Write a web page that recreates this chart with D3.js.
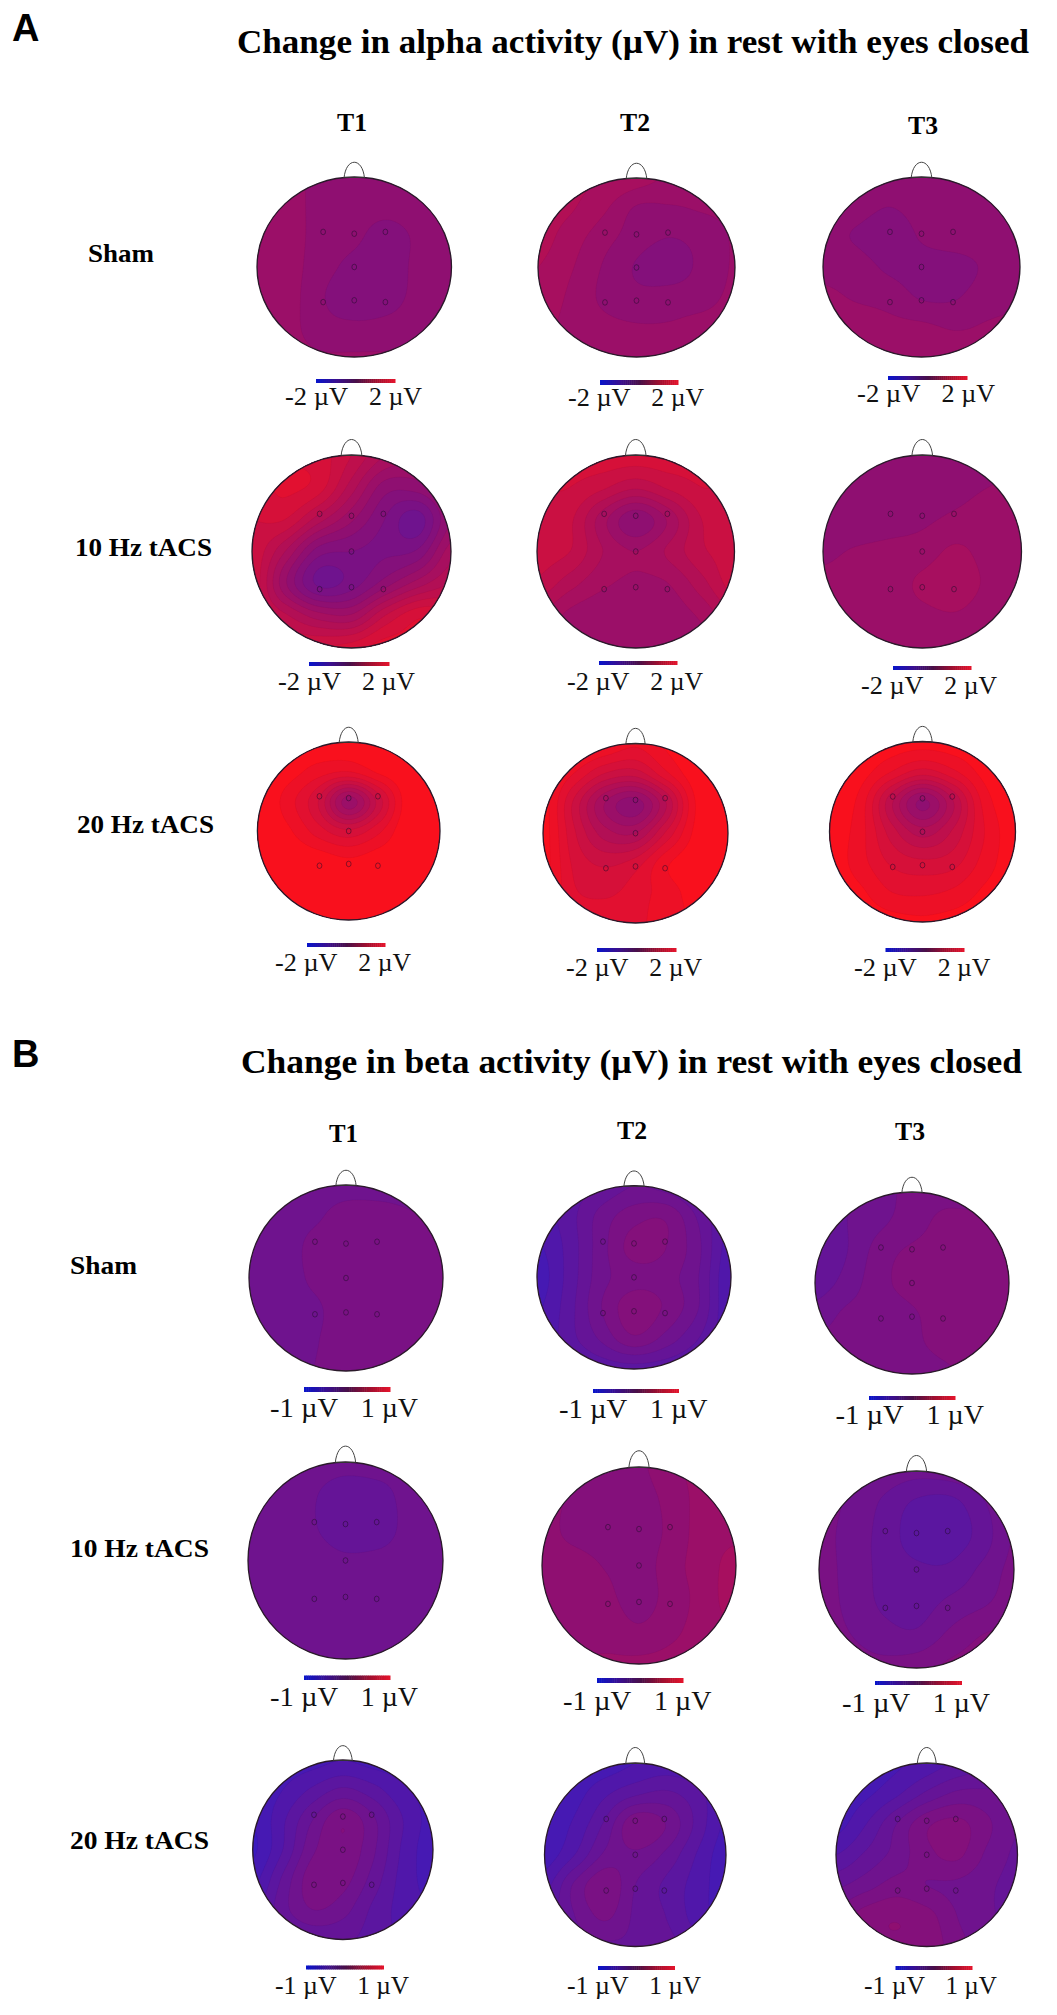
<!DOCTYPE html>
<html><head><meta charset="utf-8">
<script src="https://cdn.jsdelivr.net/npm/d3@7"></script>
<style>html,body{margin:0;background:#fff}svg{display:block}text{font-family:"Liberation Serif",serif;fill:#111}</style>
</head><body><svg id="c" width="1057" height="2015"></svg>
<script>
// ---------- DATA: potential, percent of the colour-bar half range ----------
// 7 x 7 nodes over the head box, rows top to bottom, columns left to right
const nodeAxis = [-1, -2/3, -1/3, 0, 1/3, 2/3, 1];
const conditions = ["Sham", "10 Hz tACS", "20 Hz tACS"];
const sessions = ["T1", "T2", "T3"];
const panelNames = ["A", "B"];
const panelTitles = ["Change in alpha activity (µV) in rest with eyes closed", "Change in beta activity (µV) in rest with eyes closed"];
const scaleMaxima = [2, 1];

const alphaShamT1 = [[15,13,7,6,6,6,6],[16,13,7,4,3,5,6],[18,14,6,2,-4,2,6],[18,14,4,-3,-6,3,6],[18,14,1,-6,-4,3,6],[16,13,4,2,3,5,7],[14,13,11,11,11,10,9]];
const alphaShamT2 = [[32,32,30,25,18,14,12],[34,31,22,9,9,11,12],[34,25,14,5,0,4,11],[30,21,9,-1,-6,3,11],[27,18,8,3,5,7,12],[23,17,13,11,11,13,14],[20,18,16,16,16,16,16]];
const alphaShamT3 = [[6,6,6,6,6,6,6],[5,4,0,4,6,6,6],[4,-1,-6,1,6,6,6],[7,5,-2,-4,-5,2,6],[12,9,6,-1,-1,6,8],[15,15,13,12,9,11,12],[17,17,17,17,16,15,14]];
const alpha10T1 = [[65,68,65,50,30,22,22],[65,72,65,35,5,5,20],[60,60,35,12,-10,-25,10],[58,30,-5,-10,-12,-8,25],[58,12,-22,-15,5,25,40],[55,42,25,22,50,68,65],[55,58,60,65,75,70,60]];
const alpha10T2 = [[62,64,66,66,66,62,58],[60,60,52,42,52,60,58],[56,52,24,2,22,50,56],[55,50,30,20,32,48,55],[48,34,22,18,20,36,55],[30,17,12,12,14,22,38],[20,15,13,13,14,16,22]];
const alpha10T3 = [[5,5,5,5,5,5,7],[3,3,3,5,7,10,12],[3,3,5,8,12,14,14],[8,11,13,15,22,16,14],[12,13,15,22,26,18,14],[12,13,14,17,19,14,12],[11,11,11,11,11,11,11]];
const alpha20T1 = [[100,100,98,96,98,100,100],[100,95,85,80,92,100,100],[100,85,60,15,55,98,100],[100,92,75,62,78,100,100],[100,100,97,92,97,100,100],[100,100,100,100,100,100,100],[100,100,100,100,100,100,100]];
const alpha20T2 = [[96,96,90,82,92,100,100],[95,80,60,55,78,98,100],[95,58,20,5,40,92,100],[95,62,35,30,62,94,100],[95,68,58,65,88,98,100],[95,72,68,75,85,95,100],[95,82,78,78,85,92,95]];
const alpha20T3 = [[100,98,96,95,96,98,100],[100,95,80,66,78,94,100],[98,86,42,8,40,84,98],[97,84,55,35,52,80,97],[97,84,68,62,66,84,97],[98,92,80,78,82,92,98],[100,97,94,92,94,97,100]];
const betaShamT1 = [[-26,-26,-25,-24,-24,-24,-24],[-26,-26,-22,-16,-16,-19,-22],[-26,-26,-17,-14,-13,-14,-16],[-26,-26,-18,-14,-13,-14,-14],[-26,-26,-22,-15,-14,-14,-14],[-26,-25,-21,-15,-14,-14,-14],[-25,-24,-20,-15,-14,-14,-14]];
const betaShamT2 = [[-50,-46,-38,-30,-34,-44,-50],[-56,-44,-26,-14,-12,-32,-52],[-62,-46,-24,-6,-10,-28,-56],[-66,-46,-24,-14,-16,-30,-60],[-62,-44,-20,-4,-12,-30,-60],[-60,-44,-28,-12,-24,-40,-58],[-56,-52,-46,-44,-46,-52,-56]];
const betaShamT3 = [[-34,-30,-24,-17,-14,-17,-18],[-34,-30,-22,-15,-7,-6,-7],[-36,-30,-15,-8,-6,-5,-5],[-35,-26,-13,-7,-5,-4,-4],[-26,-18,-15,-11,-6,-4,-4],[-18,-16,-15,-12,-7,-4,-4],[-16,-15,-15,-15,-12,-7,-5]];
const beta10T1 = [[-25,-25,-25,-26,-25,-25,-25],[-25,-25,-29,-36,-34,-26,-25],[-25,-25,-29,-37,-36,-26,-25],[-25,-25,-25,-28,-27,-25,-25],[-25,-25,-25,-25,-25,-25,-25],[-25,-25,-25,-25,-25,-25,-25],[-25,-25,-25,-25,-25,-25,-25]];
const beta10T2 = [[6,4,-1,-2,8,13,16],[5,-2,-5,-5,4,14,17],[4,-3,-6,-6,3,15,18],[6,5,-1,-5,6,15,24],[7,7,3,-5,5,14,26],[8,8,7,2,8,14,20],[10,10,11,12,13,15,16]];
const beta10T3 = [[-17,-20,-24,-27,-25,-20,-15],[-17,-22,-32,-42,-44,-32,-18],[-17,-24,-34,-45,-46,-36,-19],[-16,-24,-33,-38,-38,-28,-17],[-16,-23,-32,-35,-28,-22,-15],[-16,-20,-26,-28,-18,-10,-8],[-15,-16,-17,-14,-8,-6,-6]];
const beta20T1 = [[-66,-66,-64,-60,-64,-66,-66],[-68,-60,-48,-38,-46,-58,-64],[-70,-52,-30,-12,-28,-50,-64],[-72,-50,-22,-12,-28,-52,-66],[-64,-38,-14,-16,-34,-54,-64],[-54,-34,-20,-26,-42,-54,-60],[-52,-44,-38,-38,-44,-52,-54]];
const beta20T2 = [[-68,-68,-66,-60,-56,-60,-66],[-68,-64,-52,-42,-38,-46,-60],[-68,-58,-38,-12,-20,-42,-62],[-66,-50,-28,-22,-32,-50,-66],[-54,-28,-12,-30,-42,-54,-66],[-46,-30,-18,-32,-40,-54,-64],[-42,-36,-32,-32,-36,-46,-58]];
const beta20T3 = [[-66,-66,-62,-56,-48,-42,-38],[-66,-62,-52,-38,-28,-28,-32],[-64,-50,-30,-12,-7,-18,-30],[-50,-38,-26,-13,-8,-22,-32],[-32,-24,-16,-20,-22,-28,-34],[-16,-5,-1,-6,-20,-28,-34],[-10,-3,-1,-3,-16,-26,-32]];

const panelMaps = [
  [[alphaShamT1,alphaShamT2,alphaShamT3],[alpha10T1,alpha10T2,alpha10T3],[alpha20T1,alpha20T2,alpha20T3]],
  [[betaShamT1,betaShamT2,betaShamT3],[beta10T1,beta10T2,beta10T3],[beta20T1,beta20T2,beta20T3]]
];
const electrodes = [[-.32,-.39],[0,-.37],[.32,-.39],[0,0],[-.32,.39],[0,.37],[.32,.39]];

// ---------- LAYOUT (the original is a hand-pasted montage) ----------
// head: left, right, top, bottom, nose top; bar: left, right, top, bottom; legend text: left, right, baseline
const heads = [
 [[[257,451.5,177,357,162],[538,735,178,357,163],[823,1020,177,357,162]],
  [[252,451,455,648,439],[537,734.5,455,648,439],[823,1021.5,455,648,439]],
  [[257.4,440,742,920,727],[543,728,743.4,923,728],[829.5,1015.5,741.5,922,726]]],
 [[[249,443,1185,1371,1170],[537,731,1185.7,1369,1170.7],[815,1009,1192,1374,1177]],
  [[248,443,1462,1659,1445.5],[542,736,1467,1664,1450],[819,1014,1471,1668,1455]],
  [[252.7,433,1760,1939.5,1745.5],[544.5,726,1763,1946.5,1747],[836,1017.5,1763,1946.5,1747]]]
];
const bars = [
 [[[316,395,379,383],[600,678,380,385],[888,967,376,380]],
  [[309,389,662,666],[599,677,661,665],[893,971,666,670]],
  [[307,385,943,947],[597,676,948,952],[885.5,964,948,952]]],
 [[[304,390,1387,1392],[593,678.5,1389,1393],[869,955,1396,1400]],
  [[304,390,1675.5,1680],[597,683,1678,1683],[875,961.5,1681,1685]],
  [[306,383.5,1965.5,1969.5],[598,674.5,1966,1970],[895.5,972,1966,1970]]]
];
const legends = [
 [[[285,422,405],[568,704,406],[857,995,402]],
  [[278,415,690],[567,703,690],[861,997,694]],
  [[275,411,971],[566,702,976],[854,990.5,976]]],
 [[[270,418,1417],[559,707.5,1418],[835.5,984,1424]],
  [[270,418,1706],[563,711.5,1709.5],[842,990,1712]],
  [[275,409,1994],[567,701,1994],[864,997,1994]]]
];
const titleBoxes = [[237,1029,53],[241,1022,1073]];
const letterBoxes = [[12,41],[12,1067]];
const colHeads = [[[337,367,131],[620,650,131],[908,938,134]],[[329,358,1142],[617,647,1139],[895,925,1140]]];
const rowHeads = [[[88,154,262],[75,212,556],[77,214,833]],[[70,137,1274],[70,209,1557],[70,209,1849]]];

// ---------- DRAWING ----------
const svg = d3.select("#c");
const defs = svg.append("defs");
const color = d3.scaleLinear().domain([-1,0,1]).range(["rgb(34,30,212)","rgb(137,15,118)","rgb(255,16,24)"]).clamp(true);
const levels = d3.range(-10,10).map(k=>k/10);
const N = 120;
const nodeIndex = d3.scaleLinear().domain([0,N]).range([0,nodeAxis.length-1]);

function cr(a,b,c,d,t){ return b+.5*t*(c-a+t*(2*a-5*b+4*c-d+t*(3*(b-c)+d-a))); }
function upsample(grid){
  const m=grid.length, at=(r,c)=>grid[Math.max(0,Math.min(m-1,r))][Math.max(0,Math.min(m-1,c))]/100;
  const out=new Float64Array((N+1)*(N+1));
  for(let j=0;j<=N;j++){ const fy=nodeIndex(j), r=Math.min(m-2,Math.floor(fy)), ty=fy-r;
    for(let i=0;i<=N;i++){ const fx=nodeIndex(i), c=Math.min(m-2,Math.floor(fx)), tx=fx-c;
      const col=[-1,0,1,2].map(dr=>cr(at(r+dr,c-1),at(r+dr,c),at(r+dr,c+1),at(r+dr,c+2),tx));
      out[j*(N+1)+i]=cr(col[0],col[1],col[2],col[3],ty);
    }}
  return out;
}

function drawMap(p,r,s){
  const [L,R,T,B,noseTop]=heads[p][r][s];
  const cx=(L+R)/2, cy=(T+B)/2, rx=(R-L)/2, ry=(B-T)/2;
  const x=d3.scaleLinear().domain([-1,1]).range([L,R]), y=d3.scaleLinear().domain([-1,1]).range([T,B]);
  const ix=d3.scaleLinear().domain([.5,N+.5]).range([L,R]), iy=d3.scaleLinear().domain([.5,N+.5]).range([T,B]);
  const id=`clip${p}${r}${s}`;
  defs.append("clipPath").attr("id",id).append("ellipse").attr("cx",cx).attr("cy",cy).attr("rx",rx).attr("ry",ry);
  const g=svg.append("g");
  const field=upsample(panelMaps[p][r][s]);
  const low=d3.min(field);
  const ths=levels.filter(t=>t>-1);
  const base=ths.filter(t=>t<=low).pop();
  const gen=d3.contours().size([N+1,N+1]).thresholds(ths);
  const geo=d3.geoPath(d3.geoTransform({point(a,b){this.stream.point(ix(a),iy(b));}}));
  const clip=g.append("g").attr("clip-path",`url(#${id})`);
  clip.append("rect").attr("x",L-2).attr("y",T-2).attr("width",R-L+4).attr("height",B-T+4)
     .attr("fill",color((base===undefined?-1:base)+.05));
  clip.selectAll("path").data(gen(Array.from(field)).filter(c=>c.coordinates.length&&c.value>(base===undefined?-2:base)))
     .join("path").attr("d",geo).attr("fill",d=>color(d.value+.05))
     .attr("stroke","rgba(40,0,40,.06)").attr("stroke-width",.6);
  g.append("ellipse").attr("cx",cx).attr("cy",cy).attr("rx",rx).attr("ry",ry).attr("fill","none").attr("stroke","#2a1a2a").attr("stroke-width",1.3);
  const nw=rx*.105, np=d3.path();
  np.moveTo(cx-nw,T+1); np.bezierCurveTo(cx-nw*.8,noseTop-5,cx+nw*.8,noseTop-5,cx+nw,T+1);
  g.append("path").attr("d",np.toString()).attr("fill","none").attr("stroke","#444").attr("stroke-width",1);
  g.append("path").attr("d",`M${cx-nw},${T+.5}H${cx+nw}`).attr("stroke","#333").attr("stroke-width",1);
  g.selectAll("ellipse.e").data(electrodes).join("ellipse").attr("class","e")
    .attr("cx",d=>x(d[0])).attr("cy",d=>y(d[1])).attr("rx",2.4).attr("ry",2.8)
    .attr("fill","none").attr("stroke","rgba(30,10,40,.55)").attr("stroke-width",.9);

  // colour bar
  const [bl,br,bt,bb]=bars[p][r][s];
  const barScale=d3.scaleLinear().domain([-scaleMaxima[p],scaleMaxima[p]]).range([bl,br]);
  const cells=d3.range(-1,1,1/20).map(v=>v*scaleMaxima[p]);
  const barColor=d3.scaleLinear().domain([-1,-.5,0,.5,1]).range(["#0a14c8","#3a1090","#4a1048","#a01030","#e8142c"]);
  g.selectAll("rect.b").data(cells).join("rect").attr("class","b")
    .attr("x",d=>barScale(d)).attr("y",bt).attr("width",(br-bl)/40+.5).attr("height",bb-bt)
    .attr("fill",d=>barColor(d/scaleMaxima[p]));

  // legend
  const [tl,tr,tb]=legends[p][r][s], W=tr-tl, fs=W/137*25, mx=scaleMaxima[p];
  g.append("text").attr("x",tl).attr("y",tb).attr("font-size",fs).attr("textLength",W*.46).attr("lengthAdjust","spacingAndGlyphs").text(`-${mx} µV`);
  g.append("text").attr("x",tr-W*.387).attr("y",tb).attr("font-size",fs).attr("textLength",W*.387).attr("lengthAdjust","spacingAndGlyphs").text(`${mx} µV`);
}

panelNames.forEach((name,p)=>{
  const [lx,ly]=letterBoxes[p];
  svg.append("text").attr("x",lx).attr("y",ly).attr("font-size",38).attr("font-weight",700).style("font-family","'Liberation Sans',sans-serif").style("fill","#000").text(name);
  const [tl,tr,tb]=titleBoxes[p];
  svg.append("text").attr("x",tl).attr("y",tb).attr("font-size",34).attr("font-weight",700).attr("textLength",tr-tl).attr("lengthAdjust","spacingAndGlyphs").style("fill","#000").text(panelTitles[p]);
  sessions.forEach((t,s)=>{ const [a,b,c]=colHeads[p][s];
    svg.append("text").attr("x",a).attr("y",c).attr("font-size",25).attr("font-weight",700).attr("textLength",b-a).attr("lengthAdjust","spacingAndGlyphs").style("fill","#000").text(t); });
  conditions.forEach((t,r)=>{ const [a,b,c]=rowHeads[p][r];
    svg.append("text").attr("x",a).attr("y",c).attr("font-size",25).attr("font-weight",700).attr("textLength",b-a).attr("lengthAdjust","spacingAndGlyphs").style("fill","#000").text(t);
    sessions.forEach((_,s)=>drawMap(p,r,s)); });
});
</script></body></html>
